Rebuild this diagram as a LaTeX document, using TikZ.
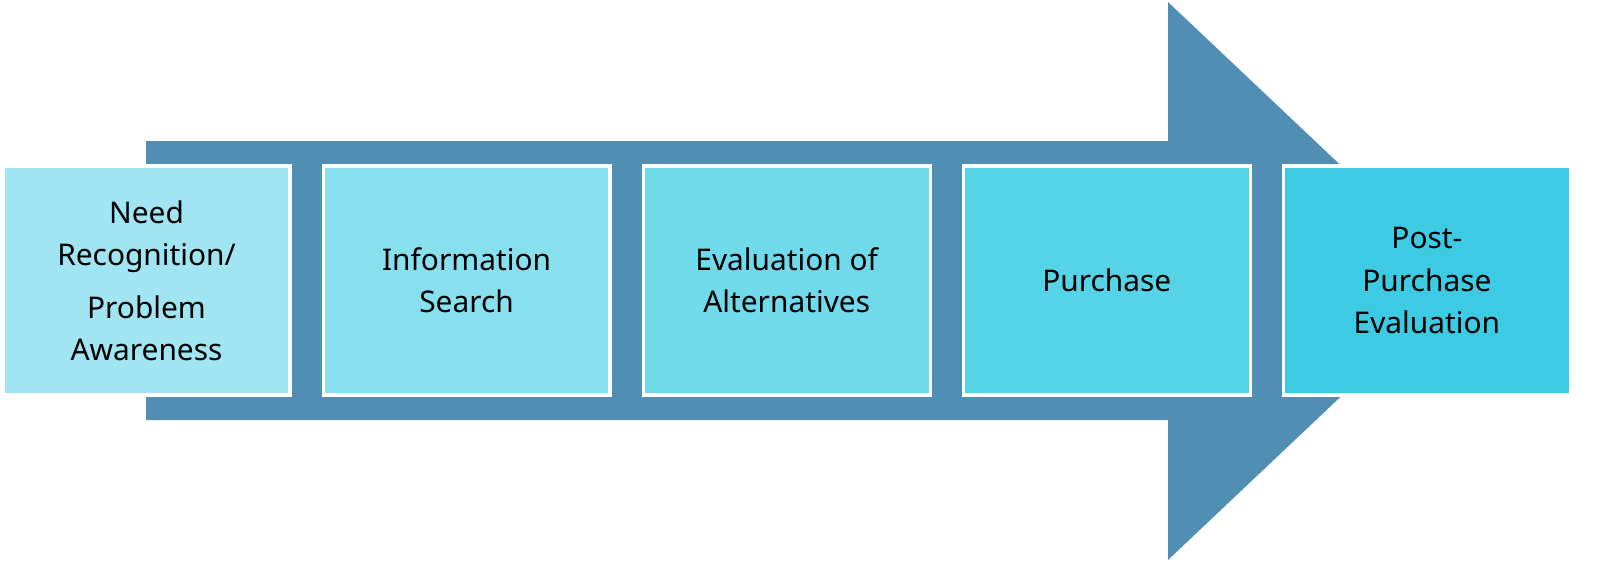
\documentclass[tikz,border=0pt]{standalone}
\usepackage{fontspec}
\setmainfont{Noto Sans}
\usetikzlibrary{positioning}
\definecolor{shaft}{HTML}{508FB3}
\definecolor{stepA}{HTML}{A0E5F1}
\definecolor{stepB}{HTML}{88DFEE}
\definecolor{stepC}{HTML}{70D9EA}
\definecolor{stepD}{HTML}{57D3E8}
\definecolor{stepE}{HTML}{3CCBE2}
\begin{document}
\begin{tikzpicture}[x=0.02cm, y=-0.02cm,
  stage/.style={draw=white, line width=1.8pt, minimum width=5.74cm, minimum height=4.58cm, inner sep=0pt, align=center, font=\fontsize{17}{24}\selectfont}]
  \fill[shaft] (146,141) -- (1168,141) -- (1168,2) -- (1463,281) -- (1168,560) -- (1168,420) -- (146,420) -- cycle;

  \node[stage, fill=stepA] (need) at (146.5,280.5) {Need\\Recognition/\\[6pt]Problem\\Awareness};
  \node[stage, fill=stepB, right=0.6cm of need] (search) {Information\\Search};
  \node[stage, fill=stepC, right=0.6cm of search] (evaluate) {Evaluation of\\Alternatives};
  \node[stage, fill=stepD, right=0.6cm of evaluate] (purchase) {Purchase};
  \node[stage, fill=stepE, right=0.6cm of purchase] (post) {Post-\\Purchase\\Evaluation};
  \pgfresetboundingbox
  \useasboundingbox (0,0) rectangle (1614,579);
\end{tikzpicture}
\end{document}
